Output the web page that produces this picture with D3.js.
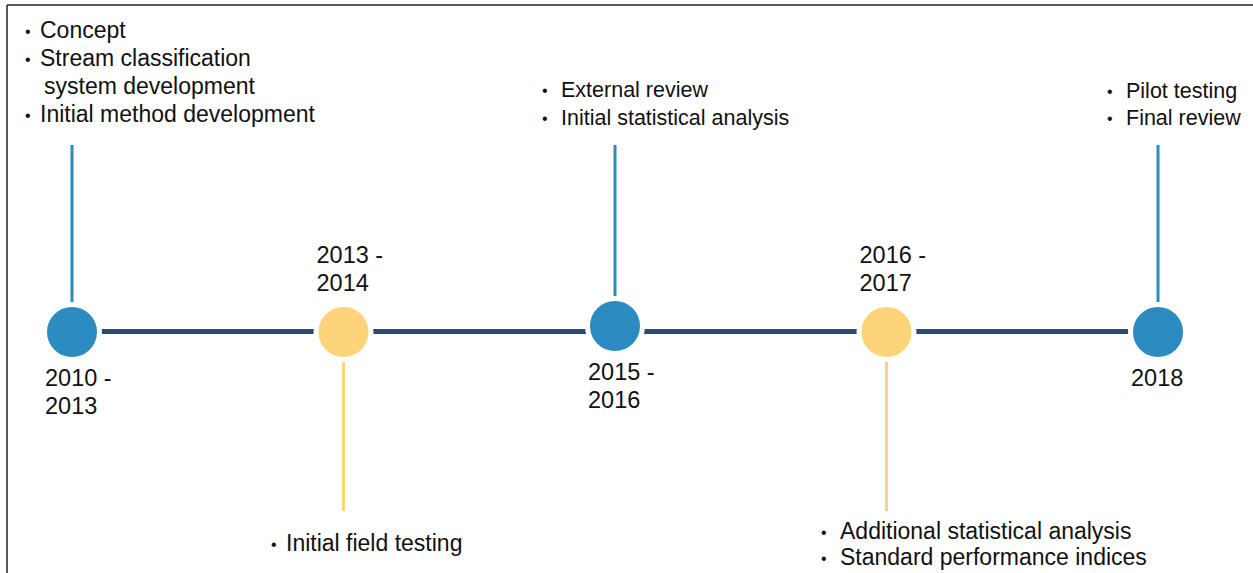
<!DOCTYPE html>
<html><head><meta charset="utf-8">
<script src="https://cdn.jsdelivr.net/npm/d3@7"></script>
<style>
html,body{margin:0;padding:0;background:#fff;}
svg{display:block;font-family:"Liberation Sans",Arial,Helvetica,sans-serif;}
</style></head>
<body>
<svg id="chart" width="1253" height="573"></svg>
<script>
// ---- data ----
const periods = ["2010 - 2013", "2013 - 2014", "2015 - 2016", "2016 - 2017", "2018"];
const periodLines = [["2010 -", "2013"], ["2013 -", "2014"], ["2015 -", "2016"], ["2016 -", "2017"], ["2018"]];
const phaseType = ["major", "minor", "major", "minor", "major"]; // major: note above, minor: note below
const notes = [
  [["Concept"], ["Stream classification", "system development"], ["Initial method development"]],
  [["Initial field testing"]],
  [["External review"], ["Initial statistical analysis"]],
  [["Additional statistical analysis"], ["Standard performance indices"]],
  [["Pilot testing"], ["Final review"]]
];

const colors = { major: "#2c8bc0", minor: "#fed47a", line: "#2c4a6f" };

const svg = d3.select("#chart");
const W = 1253, H = 573;

// frame (left + top edges)
svg.append("line").attr("x1", 7).attr("y1", 5).attr("x2", W).attr("y2", 5).attr("stroke", "#222").attr("stroke-width", 1.5);
svg.append("line").attr("x1", 7).attr("y1", 5).attr("x2", 7).attr("y2", H).attr("stroke", "#222").attr("stroke-width", 1.5);

const x = d3.scalePoint().domain(periods).range([72, 1158]);
const yMid = 332;
const r = 25;

// main timeline
svg.append("line")
  .attr("x1", x(periods[0])).attr("x2", x(periods[periods.length - 1]))
  .attr("y1", yMid - 0.5).attr("y2", yMid - 0.5)
  .attr("stroke", colors.line).attr("stroke-width", 5);

const nodes = svg.selectAll("g.node").data(periods).join("g").attr("class", "node")
  .attr("transform", (d, i) => `translate(${x(d)},${yMid + (i === 2 ? -6 : 0)})`);

// connectors
nodes.append("line")
  .attr("x1", 0).attr("x2", 0)
  .attr("y1", (d, i) => phaseType[i] === "major" ? -(r + 5) : (r + 5))
  .attr("y2", (d, i) => phaseType[i] === "major" ? (145 - yMid - (i === 2 ? -6 : 0)) : (511 - yMid))
  .attr("stroke", (d, i) => colors[phaseType[i]]).attr("stroke-width", 3);

// circles
nodes.append("circle")
  .attr("r", r + 2.5)
  .attr("fill", (d, i) => colors[phaseType[i]])
  .attr("stroke", "#fff").attr("stroke-width", 5);

// period labels
nodes.each(function (d, i) {
  const g = d3.select(this);
  const lines = periodLines[i];
  const major = phaseType[i] === "major";
  const dy0 = major ? 54 : -69;
  lines.forEach((t, k) => {
    g.append("text").attr("x", -27).attr("y", dy0 + k * 28)
      .attr("font-size", 23.5).attr("fill", "#111").text(t);
  });
});

// notes
const noteLayout = [
  { tx: 40, base: 38, step: 28, fs: 23, bx: 15 },
  { tx: 286, base: 551, step: 28, fs: 23, bx: 15 },
  { tx: 561, base: 97, step: 28, fs: 21.5, bx: 19 },
  { tx: 840, base: 539, step: 26, fs: 23, bx: 19 },
  { tx: 1126, base: 98, step: 27, fs: 21.5, bx: 19 }
];
notes.forEach((items, i) => {
  const L = noteLayout[i];
  const g = svg.append("g");
  let row = 0;
  items.forEach(item => {
    g.append("text").attr("x", L.tx - L.bx).attr("y", L.base + row * L.step - 1)
      .attr("font-size", 16).attr("fill", "#111").text("•");
    item.forEach((t, k) => {
      g.append("text").attr("x", L.tx + (k > 0 ? 4 : 0)).attr("y", L.base + row * L.step)
        .attr("font-size", L.fs).attr("fill", "#111").text(t);
      row++;
    });
  });
});
</script>
</body></html>
